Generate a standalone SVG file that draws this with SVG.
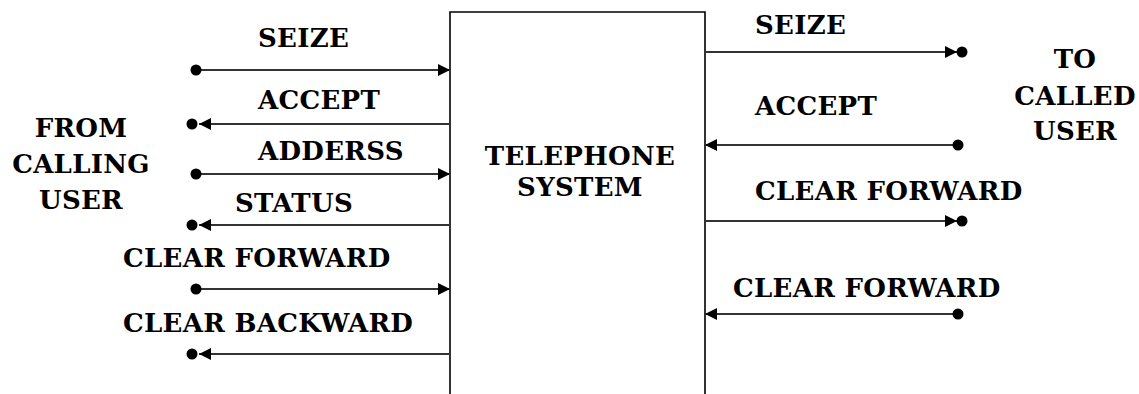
<svg xmlns="http://www.w3.org/2000/svg" width="1139" height="394" viewBox="0 0 1139 394">
<defs>
<style>
text{font-family:"DejaVu Serif",serif;font-size:26px;font-weight:bold;fill:#000;letter-spacing:0.3px}
.c{stroke:#333;stroke-width:2.2;fill:none}
.dot{fill:#000}
</style>
<marker id="ah" markerUnits="userSpaceOnUse" markerWidth="14" markerHeight="12" refX="12" refY="6" orient="auto"><path d="M0,0 L12,6 L0,12 Z" fill="#000"/></marker>
</defs>
<rect width="1139" height="394" fill="#fff"/>
<g id="telephone-system">
<path d="M450,400 V12 H705 V400" fill="none" stroke="#000" stroke-width="1.6"/>
<text x="580" y="165" text-anchor="middle">TELEPHONE</text>
<text x="580" y="196" text-anchor="middle">SYSTEM</text>
</g>
<g id="calling-user">
<text x="81" y="137" text-anchor="middle">FROM</text>
<text x="81" y="173" text-anchor="middle">CALLING</text>
<text x="81" y="209" text-anchor="middle">USER</text>
</g>
<g id="called-user">
<text x="1075" y="68" text-anchor="middle">TO</text>
<text x="1075" y="105" text-anchor="middle">CALLED</text>
<text x="1075" y="140" text-anchor="middle">USER</text>
</g>
<g id="connectors">
<line class="c" x1="196" y1="70" x2="450" y2="70" marker-end="url(#ah)"/><circle class="dot" cx="196" cy="70" r="5.5"/>
<line class="c" x1="450" y1="124" x2="199" y2="124" marker-end="url(#ah)"/><circle class="dot" cx="192" cy="124" r="5.5"/>
<line class="c" x1="196" y1="174" x2="450" y2="174" marker-end="url(#ah)"/><circle class="dot" cx="196" cy="174" r="5.5"/>
<line class="c" x1="450" y1="225" x2="199" y2="225" marker-end="url(#ah)"/><circle class="dot" cx="192" cy="225" r="5.5"/>
<line class="c" x1="196" y1="289" x2="450" y2="289" marker-end="url(#ah)"/><circle class="dot" cx="196" cy="289" r="5.5"/>
<line class="c" x1="450" y1="354" x2="199" y2="354" marker-end="url(#ah)"/><circle class="dot" cx="192" cy="354" r="5.5"/>
<line class="c" x1="705" y1="52" x2="957" y2="52" marker-end="url(#ah)"/><circle class="dot" cx="962" cy="52" r="5.5"/>
<line class="c" x1="958" y1="145" x2="705" y2="145" marker-end="url(#ah)"/><circle class="dot" cx="958" cy="145" r="5.5"/>
<line class="c" x1="705" y1="221" x2="957" y2="221" marker-end="url(#ah)"/><circle class="dot" cx="962" cy="221" r="5.5"/>
<line class="c" x1="958" y1="314" x2="705" y2="314" marker-end="url(#ah)"/><circle class="dot" cx="958" cy="314" r="5.5"/>
<text x="258" y="47">SEIZE</text>
<text x="258" y="109">ACCEPT</text>
<text x="258" y="160">ADDERSS</text>
<text x="235" y="212">STATUS</text>
<text x="123" y="267">CLEAR FORWARD</text>
<text x="123" y="332">CLEAR BACKWARD</text>
<text x="755" y="34">SEIZE</text>
<text x="755" y="115">ACCEPT</text>
<text x="755" y="200">CLEAR FORWARD</text>
<text x="733" y="297">CLEAR FORWARD</text>
</g>
</svg>
